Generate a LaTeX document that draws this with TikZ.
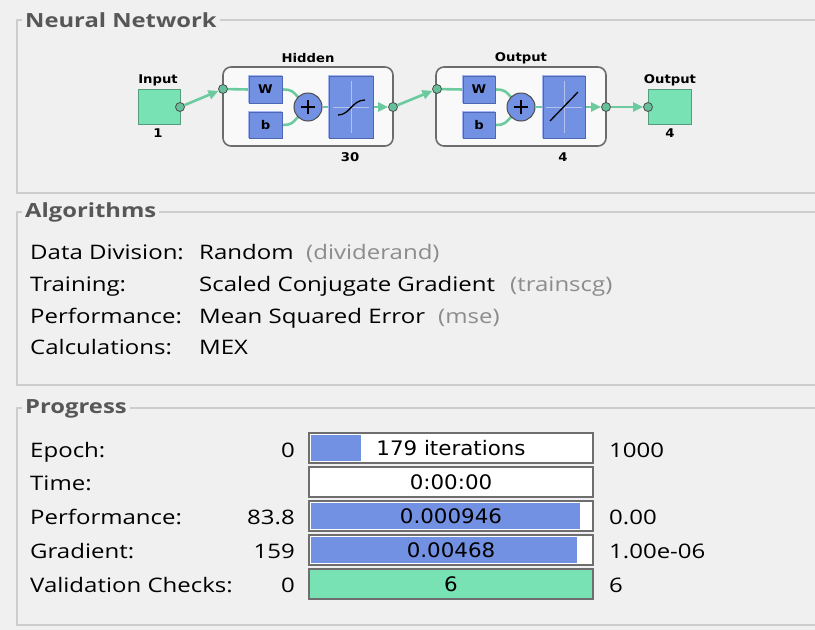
\documentclass[tikz,border=0pt]{standalone}
\usepackage{fontspec}
\setmainfont{Open Sans}
\newfontfamily\uifont{Open Sans}[FakeStretch=1.2]
\newfontfamily\titlefont{Open Sans}[FakeStretch=1.22]
\newfontfamily\barfont{DejaVu Sans}[FakeStretch=1.07]
\newfontfamily\dfont{DejaVu Sans}[FakeStretch=1.1]
\usetikzlibrary{arrows.meta}
\pgfdeclarelayer{back}
\pgfdeclarelayer{mid}
\pgfsetlayers{back,mid,main}
\definecolor{bg}{HTML}{F0F0F0}
\definecolor{frameline}{HTML}{CDCDCD}
\definecolor{titlegray}{HTML}{575757}
\definecolor{nngreen}{HTML}{78E2B4}
\definecolor{linegreen}{HTML}{6CCB9E}
\definecolor{nnblue}{HTML}{7391E3}
\definecolor{bluedark}{HTML}{4E66B4}
\definecolor{bluelight}{HTML}{A3B6F0}
\definecolor{bargray}{HTML}{6E6E6E}
\definecolor{paren}{HTML}{8C8C8C}
\tikzset{
  grouptitle/.style={anchor=west,fill=bg,inner xsep=3pt,inner ysep=0pt,text=titlegray,font=\titlefont\bfseries\fontsize{19.5}{22}\selectfont},
  uitext/.style={anchor=base west,inner sep=0pt,font=\uifont\fontsize{20}{24}\selectfont},
  uivalue/.style={anchor=base east,inner sep=0pt,font=\uifont\fontsize{20}{24}\selectfont},
  partext/.style={uitext,text=paren},
  layerbox/.style={draw=gray!85!black,line width=1.6pt,fill=white!60!bg,rounded corners=8pt,inner sep=0pt},
  bluebox/.style={fill=nnblue,draw=bluedark,line width=0.8pt,inner sep=0pt,font=\dfont\bfseries\fontsize{12}{13}\selectfont},
  greenbox/.style={fill=nngreen,draw=nngreen!70!black,line width=0.8pt,inner sep=0pt},
  dot/.style={circle,fill=nngreen!85!black,draw=black!70,line width=0.8pt,minimum size=9pt,inner sep=0pt},
  sumnode/.style={circle,fill=nnblue,draw=black!70,line width=1pt,minimum size=28pt,inner sep=0pt},
  conn/.style={draw=linegreen,line width=2.6pt},
  tip/.style={-{Triangle[length=10pt,width=9pt,fill=linegreen]}},
  dlabel/.style={inner sep=0pt,font=\dfont\bfseries\fontsize{12}{13}\selectfont},
  barbox/.style={draw=bargray,line width=1.6pt,fill=white,inner sep=0pt,minimum width=284pt,minimum height=30pt},
  bartext/.style={inner sep=0pt,font=\barfont\fontsize{20}{24}\selectfont},
}
\newcommand{\bevelbox}[1]{%
  \draw[bluedark,line width=1.4pt] (#1.north east) -- (#1.south east) -- (#1.south west);
  \draw[bluelight,line width=1pt] (#1.south west) -- (#1.north west) -- (#1.north east);}
\begin{document}
\begin{tikzpicture}[x=1pt,y=-1pt]
\useasboundingbox (0,0) rectangle (815,630);
\begin{pgfonlayer}{back}
\fill[bg] (0,0) rectangle (815,630);
\end{pgfonlayer}

% ---- group frames ----
\draw[frameline,line width=1.2pt] (830,20) -- (17,20) -- (17,193) -- (830,193);
\node[grouptitle] (tnn) at (22,20) {Neural Network};
\draw[frameline,line width=1.2pt] (830,212) -- (17,212) -- (17,385) -- (830,385);
\node[grouptitle] (talg) at (22,212) {Algorithms};
\draw[frameline,line width=1.2pt] (830,408) -- (17,408) -- (17,625) -- (830,625);
\node[grouptitle] (tprog) at (22,409) {Progress};

% ---- neural network diagram ----
\begin{pgfonlayer}{back}
\node[layerbox,minimum width=170pt,minimum height=79pt] (L1) at (308,106.5) {};
\node[layerbox,minimum width=170pt,minimum height=79pt] (L2) at (521,106.5) {};
\end{pgfonlayer}

\node[greenbox,minimum width=42pt,minimum height=35pt] (in) at (159,106.5) {};
\node[dlabel] (inlab) at (158,80) {Input};
\node[dlabel] (innum) at (158,133) {1};

\node[bluebox,minimum width=33pt,minimum height=27pt] (W1) at (265.5,89.5) {W};
\node[bluebox,minimum width=33pt,minimum height=26pt] (b1) at (265.5,125) {b};
\node[sumnode] (P1) at (308,107) {};
\node[bluebox,minimum width=44pt,minimum height=62pt] (T1) at (351,107) {};
\bevelbox{W1}\bevelbox{b1}\bevelbox{T1}
\node[dlabel] (hlab) at (308,58) {Hidden};
\node[dlabel] (hnum) at (350,157) {30};

\node[bluebox,minimum width=32pt,minimum height=27pt] (W2) at (479,89.5) {W};
\node[bluebox,minimum width=32pt,minimum height=26pt] (b2) at (479,125) {b};
\node[sumnode] (P2) at (521,107) {};
\node[bluebox,minimum width=42pt,minimum height=62pt] (T2) at (564,107) {};
\bevelbox{W2}\bevelbox{b2}\bevelbox{T2}
\node[dlabel] (olab) at (521,58) {Output};
\node[dlabel] (onum) at (563,157) {4};

\node[greenbox,minimum width=43pt,minimum height=35pt] (out) at (669.5,106.5) {};
\node[dlabel] (outlab) at (670,80) {Output};
\node[dlabel] (outnum) at (670,133) {4};

% plus signs
\draw[black,line width=1.8pt] ([xshift=-7pt]P1.center) -- ([xshift=7pt]P1.center) ([yshift=-7pt]P1.center) -- ([yshift=7pt]P1.center);
\draw[black,line width=1.8pt] ([xshift=-7pt]P2.center) -- ([xshift=7pt]P2.center) ([yshift=-7pt]P2.center) -- ([yshift=7pt]P2.center);

% transfer icons
\draw[white,opacity=0.45,line width=0.8pt] (333,107) -- (369,107) (351,81) -- (351,133);
\draw[black,line width=1.3pt] (338,115) .. controls (350,115) and (352,100) .. (365,100);
\draw[white,opacity=0.45,line width=0.8pt] (546,107) -- (582,107) (564,81) -- (564,133);
\draw[black,line width=1.3pt] (550,121) -- (578,92);

% dots
\node[dot] (c1) at (180,107) {};
\node[dot] (c2) at (223,89) {};
\node[dot] (c3) at (393,107) {};
\node[dot] (c4) at (437,89) {};
\node[dot] (c5) at (606,107) {};
\node[dot] (c6) at (648,107) {};

\begin{pgfonlayer}{mid}
\draw[conn,tip] (c1) -- (c2);
\draw[conn] (c2) -- (W1.west);
\draw[conn] (W1.east) .. controls +(10,0) and +(-5,-5) .. (P1.north west);
\draw[conn] (b1.east) .. controls +(10,0) and +(-5,5) .. (P1.south west);
\draw[conn] (P1.east) -- (T1.west);
\draw[conn,tip] (T1.east) -- (c3);
\draw[conn,tip] (c3) -- (c4);
\draw[conn] (c4) -- (W2.west);
\draw[conn] (W2.east) .. controls +(10,0) and +(-5,-5) .. (P2.north west);
\draw[conn] (b2.east) .. controls +(10,0) and +(-5,5) .. (P2.south west);
\draw[conn] (P2.east) -- (T2.west);
\draw[conn,tip] (T2.east) -- (c5);
\draw[conn,tip] (c5) -- (c6);
\end{pgfonlayer}

% ---- algorithms ----
\node[uitext] (a1) at (30,259) {Data Division:};
\node[uitext] (a1v) at (199,259) {Random};
\node[partext] (a1p) at (306,259) {(dividerand)};
\node[uitext] (a2) at (30,291) {Training:};
\node[uitext] (a2v) at (199,291) {Scaled Conjugate Gradient};
\node[partext] (a2p) at (510,291) {(trainscg)};
\node[uitext] (a3) at (30,323) {Performance:};
\node[uitext] (a3v) at (199,323) {Mean Squared Error};
\node[partext] (a3p) at (438,323) {(mse)};
\node[uitext] (a4) at (30,354) {Calculations:};
\node[uitext] (a4v) at (199,354) {MEX};

% ---- progress ----
\node[uitext] (p1) at (30,457) {Epoch:};
\node[uitext] (p2) at (30,490) {Time:};
\node[uitext] (p3) at (30,524) {Performance:};
\node[uitext] (p4) at (30,558) {Gradient:};
\node[uitext] (p5) at (30,592) {Validation Checks:};
\node[uivalue] (v1) at (295,457) {0};
\node[uivalue] (v3) at (295,524) {83.8};
\node[uivalue] (v4) at (295,558) {159};
\node[uivalue] (v5) at (295,592) {0};
\node[uitext] (r1) at (609,457) {1000};
\node[uitext] (r3) at (609,524) {0.00};
\node[uitext] (r4) at (609,558) {1.00e-06};
\node[uitext] (r5) at (609,592) {6};

\node[barbox] (bar1) at (451,448) {};
\fill[nnblue] (311,435) rectangle (361,461);
\node[bartext] at (451,448) {179 iterations};
\node[barbox] (bar2) at (451,482) {};
\node[bartext] at (451,482) {0:00:00};
\node[barbox] (bar3) at (451,516) {};
\fill[nnblue] (311,503) rectangle (580,529);
\node[bartext] at (451,516) {0.000946};
\node[barbox] (bar4) at (451,550) {};
\fill[nnblue] (311,537) rectangle (577,563);
\node[bartext] at (451,550) {0.00468};
\node[barbox,fill=nngreen] (bar5) at (451,584) {};
\node[bartext] at (451,584) {6};
\end{tikzpicture}
\end{document}
